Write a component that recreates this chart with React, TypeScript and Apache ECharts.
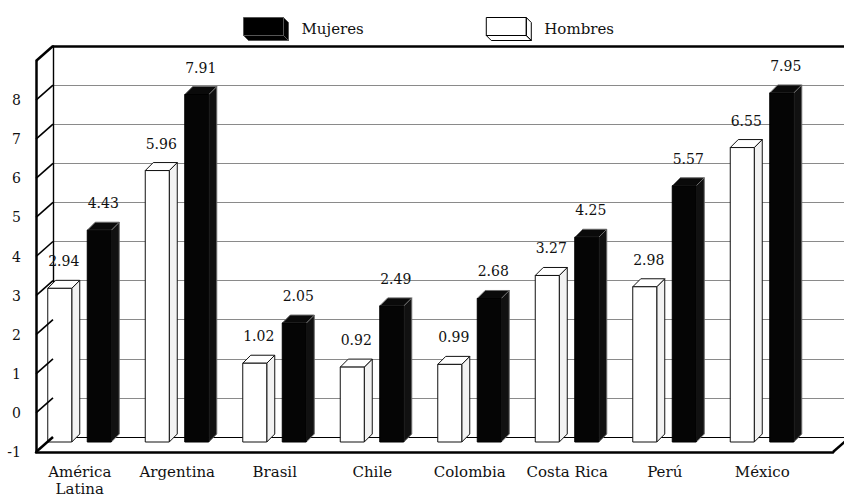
import React, { useEffect, useRef } from "react";
import * as echarts from "echarts";

const categories = ["América\nLatina", "Argentina", "Brasil", "Chile", "Colombia", "Costa Rica", "Perú", "México"];
const hombres = [2.94, 5.96, 1.02, 0.92, 0.99, 3.27, 2.98, 6.55];
const mujeres = [4.43, 7.91, 2.05, 2.49, 2.68, 4.25, 5.57, 7.95];
const yMin = -1;
const yMax = 9;
const wallLevels = [-1, 0, 1, 2, 3, 4, 5, 6, 7, 8, 9];

const FONT = "DejaVu Serif";
const DEPTH_X = 17;
const DEPTH_Y = -15;
const BAR_W = 24;
const BAR_DX = 8;
const BAR_DY = -8;
const ICON =
  "path://M0,0 L40,0 L40,18 L0,18 Z M40,0 L45,5 L45,23 L40,18 Z M0,18 L40,18 L45,23 L5,23 Z";

function barRenderer(offset: number, dark: boolean) {
  return (params: any, api: any) => {
    const i = api.value(0);
    const v = api.value(1);
    const base = api.coord([i, yMin]);
    const top = api.coord([i, v]);
    const cx = base[0] + offset;
    const x0 = cx - BAR_W / 2;
    const x1 = cx + BAR_W / 2;
    const yb = base[1];
    const yt = top[1];
    const stroke = dark ? "#6a6a6a" : "#111";
    const front = dark ? "#050505" : "#ffffff";
    const side = dark ? "#111" : "#f2f2f2";
    const topFill = dark ? "#0a0a0a" : "#ffffff";
    return {
      type: "group",
      children: [
        {
          type: "polygon",
          shape: { points: [[x1, yt], [x1 + BAR_DX, yt + BAR_DY], [x1 + BAR_DX, yb + BAR_DY], [x1, yb]] },
          style: { fill: side, stroke, lineWidth: 1 },
        },
        {
          type: "polygon",
          shape: { points: [[x0, yt], [x0 + BAR_DX, yt + BAR_DY], [x1 + BAR_DX, yt + BAR_DY], [x1, yt]] },
          style: { fill: topFill, stroke, lineWidth: 1 },
        },
        {
          type: "rect",
          shape: { x: x0, y: yt, width: BAR_W, height: yb - yt },
          style: { fill: front, stroke: dark ? "#000" : "#111", lineWidth: 1 },
        },
        {
          type: "text",
          x: cx + 4,
          y: yt - 27,
          style: {
            text: v.toFixed(2),
            fontFamily: FONT,
            fontSize: 14,
            fill: "#111",
            align: "center",
            verticalAlign: "middle",
          },
        },
      ],
    };
  };
}

function wallRenderer(params: any, api: any) {
  const x = api.value(0);
  const v = api.value(1);
  const p = api.coord([x, v]);
  const thick = v === yMin || v === yMax;
  return {
    type: "polyline",
    shape: { points: [[p[0], p[1]], [p[0] + DEPTH_X, p[1] + DEPTH_Y]] },
    style: { stroke: "#000", fill: "none", lineWidth: thick ? 2.5 : 1.6 },
  };
}

export default function App() {
  const ref = useRef<HTMLDivElement>(null);
  useEffect(() => {
    if (!ref.current) return;
    const chart = echarts.init(ref.current, undefined, { renderer: "svg" });
    const wallData = wallLevels.map((v) => [0, v]).concat([[1, yMin]]);
    const hiddenValueX = (gridIndex: number, position: string, width: number) => ({
      gridIndex,
      type: "value",
      min: 0,
      max: 1,
      position,
      axisLine: { show: true, onZero: false, lineStyle: { color: "#000", width } },
      axisTick: { show: false },
      axisLabel: { show: false },
      splitLine: { show: false },
    });
    chart.setOption({
      animation: false,
      backgroundColor: "#ffffff",
      legend: {
        top: 12,
        left: 238,
        itemWidth: 45,
        itemHeight: 23,
        itemGap: 122,
        selectedMode: false,
        textStyle: { fontFamily: FONT, fontSize: 15, color: "#111", padding: [0, 0, 0, 8] },
        data: [
          { name: "Mujeres", icon: ICON, itemStyle: { color: "#000", borderColor: "#555", borderWidth: 1 } },
          { name: "Hombres", icon: ICON, itemStyle: { color: "#fff", borderColor: "#000", borderWidth: 1 } },
        ],
      },
      grid: [
        { left: 31, top: 52, width: 780, height: 391 },
        { left: 53, top: 46, width: 830, height: 391 },
        { left: 36, top: 61, width: 797, height: 391 },
      ],
      xAxis: [
        {
          gridIndex: 0,
          type: "category",
          data: categories,
          axisLine: { show: false },
          axisTick: { show: false },
          axisLabel: { interval: 0, fontFamily: FONT, fontSize: 15, color: "#111", margin: 21, lineHeight: 17 },
        },
        hiddenValueX(1, "top", 2.5),
        hiddenValueX(1, "bottom", 1.2),
        hiddenValueX(2, "bottom", 2.5),
      ],
      yAxis: [
        { gridIndex: 0, type: "value", min: yMin, max: yMax, interval: 1, show: false },
        {
          gridIndex: 1,
          type: "value",
          min: yMin,
          max: yMax,
          interval: 1,
          axisLine: { show: true, onZero: false, lineStyle: { color: "#000", width: 1.4 } },
          axisTick: { show: false },
          axisLabel: { show: false },
          splitLine: { show: true, lineStyle: { color: "#8a8a8a", width: 1.2 } },
        },
        {
          gridIndex: 2,
          type: "value",
          min: yMin,
          max: yMax,
          interval: 1,
          axisLine: { show: true, onZero: false, lineStyle: { color: "#000", width: 2.5 } },
          axisTick: { show: false },
          splitLine: { show: false },
          axisLabel: {
            fontFamily: FONT,
            fontSize: 14,
            color: "#111",
            margin: 15,
            formatter: (v: number) => (v === yMax ? "" : String(v)),
          },
        },
      ],
      series: [
        {
          name: "Hombres",
          type: "custom",
          xAxisIndex: 0,
          yAxisIndex: 0,
          z: 5,
          itemStyle: { color: "#fff", borderColor: "#000" },
          renderItem: barRenderer(-20, false),
          data: hombres.map((v, i) => [i, v]),
        },
        {
          name: "Mujeres",
          type: "custom",
          xAxisIndex: 0,
          yAxisIndex: 0,
          z: 5,
          itemStyle: { color: "#000" },
          renderItem: barRenderer(19.5, true),
          data: mujeres.map((v, i) => [i, v]),
        },
        {
          name: "wall",
          type: "custom",
          xAxisIndex: 3,
          yAxisIndex: 2,
          z: 6,
          silent: true,
          renderItem: wallRenderer,
          data: wallData,
        },
      ],
    });
    return () => chart.dispose();
  }, []);
  return (
    <div
      ref={ref}
      style={{ position: "fixed", left: 0, top: 0, width: 844, height: 497 }}
    />
  );
}
